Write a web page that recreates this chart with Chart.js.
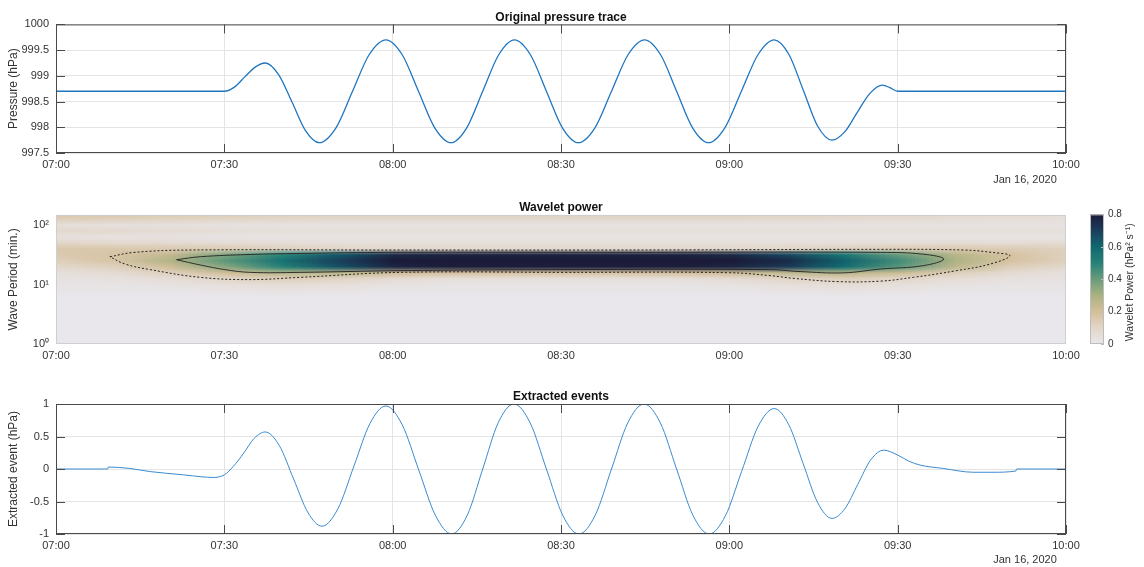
<!DOCTYPE html>
<html lang="en">
<head>
<meta charset="UTF-8" />
<title>Pressure trace, wavelet power and extracted events</title>
<script src="https://cdn.jsdelivr.net/npm/chart.js"></script>
<style>
  html, body { margin: 0; background: #fff; }
  #page { position: relative; width: 1144px; height: 567px; overflow: hidden; }
  .panel { position: absolute; }
</style>
</head>
<body>
<div id="page">
  <div class="panel" style="left:0;top:0;width:1144px;height:190px"><canvas id="traceChart"></canvas></div>
  <div class="panel" style="left:0;top:190px;width:1144px;height:180px"><canvas id="waveletChart"></canvas></div>
  <div class="panel" style="left:1070px;top:190px;width:74px;height:180px"><canvas id="colourbarChart"></canvas></div>
  <div class="panel" style="left:0;top:375px;width:1144px;height:192px"><canvas id="eventChart"></canvas></div>
</div>

<script>
// x axis: minutes after 07:00
const timeTicks = [0, 30, 60, 90, 120, 150, 180];
const timeLabels = ['07:00', '07:30', '08:00', '08:30', '09:00', '09:30', '10:00'];

// original pressure trace
const traceMinutes = [0, 15, 30, 31.8, 33.65, 35.5, 37.3, 39.7, 42.1, 44.5, 46.9, 49.9, 52.85, 55.8, 58.8,
  61.7, 64.6, 67.5, 70.4, 73.2, 76.05, 78.9, 81.7, 84.55, 87.4, 90.25, 93.1, 96.05, 99, 101.95, 104.9,
  107.75, 110.6, 113.45, 116.3, 119.2, 122.15, 125.1, 128, 130.6, 133.15, 135.7, 138.3, 140.55, 142.8,
  145.05, 147.3, 148.6, 150, 165, 180];
const traceHPa = [998.70, 998.70, 998.70, 998.78, 998.98, 999.17, 999.25, 999.02, 998.48, 997.93, 997.70, 997.99, 998.70, 999.41, 999.70,
  999.41, 998.70, 997.99, 997.70, 997.99, 998.70, 999.41, 999.70, 999.41, 998.70, 997.99, 997.70, 997.99, 998.70, 999.41, 999.70,
  999.41, 998.70, 997.99, 997.70, 997.99, 998.70, 999.41, 999.70, 999.42, 998.73, 998.03, 997.75, 997.91, 998.29,
  998.66, 998.82, 998.77, 998.70, 998.70, 998.70];
const pressureTicks = [997.5, 998, 998.5, 999, 999.5, 1000];
const pressureLabels = ['997.5', '998', '998.5', '999', '999.5', '1000'];

// extracted event
const eventMinutes = [0, 9.2, 9.3, 13, 16.8, 22.7, 26, 28, 30, 31.6, 33.5, 35.3, 37.3, 39.8, 42.35, 44.9, 47.4,
  50.25, 53.1, 55.95, 58.8, 61.7, 64.65, 67.6, 70.5, 73.3, 76.05, 78.8, 81.6, 84.5, 87.4, 90.3, 93.2,
  96.1, 99, 101.9, 104.8, 107.7, 110.6, 113.5, 116.4, 119.3, 122.2, 125.1, 128, 130.6, 133.15, 135.7,
  138.3, 140.6, 142.9, 145.2, 147.5, 150, 152, 154, 158, 163.5, 167, 171.1, 171.2, 180];
const eventHPa = [0, 0, 0.03, 0.01, -0.04, -0.09, -0.12, -0.13, -0.09, 0.04, 0.25, 0.47, 0.57, 0.36, -0.155, -0.67, -0.88,
  -0.61, 0.045, 0.70, 0.97, 0.68, -0.015, -0.71, -1.0, -0.71, 0, 0.71, 1.0, 0.71, 0, -0.71, -1.0,
  -0.71, 0, 0.71, 1.0, 0.71, 0, -0.71, -1.0, -0.72, -0.035, 0.65, 0.93, 0.68, 0.085, -0.51,
  -0.76, -0.61, -0.235, 0.14, 0.29, 0.215, 0.12, 0.06, 0.01, -0.05, -0.05, -0.03, 0, 0];
const eventTicks = [-1, -0.5, 0, 0.5, 1];
const eventLabels = ['-1', '-0.5', '0', '0.5', '1'];

// wavelet power grid: columns every 10 min, rows log10(period) from 2.2 down to 0.0
const powerMinutes = [0, 10, 20, 30, 40, 50, 60, 70, 80, 90, 100, 110, 120, 130, 140, 150, 160, 170, 180];
const powerLogPeriod = [2.2, 2.1, 2.0, 1.9, 1.8, 1.7, 1.6, 1.5, 1.4, 1.3, 1.2, 1.1, 1.0, 0.9, 0.8, 0.7, 0.6, 0.5, 0.4, 0.3, 0.2, 0.1, 0.0];
const powerGrid = [
  [0.17, 0.17, 0.16, 0.15, 0.14, 0.13, 0.13, 0.13, 0.13, 0.13, 0.13, 0.13, 0.13, 0.12, 0.11, 0.10, 0.09, 0.08, 0.07],
  [0.13, 0.12, 0.11, 0.10, 0.09, 0.08, 0.08, 0.08, 0.08, 0.08, 0.08, 0.08, 0.08, 0.08, 0.07, 0.07, 0.06, 0.05, 0.05],
  [0.05, 0.04, 0.04, 0.03, 0.03, 0.03, 0.03, 0.03, 0.03, 0.03, 0.03, 0.03, 0.03, 0.03, 0.03, 0.03, 0.03, 0.03, 0.03],
  [0.09, 0.08, 0.07, 0.06, 0.05, 0.05, 0.05, 0.05, 0.05, 0.05, 0.05, 0.05, 0.05, 0.05, 0.05, 0.05, 0.05, 0.05, 0.05],
  [0.04, 0.03, 0.03, 0.02, 0.02, 0.02, 0.02, 0.02, 0.02, 0.02, 0.02, 0.02, 0.02, 0.02, 0.02, 0.02, 0.02, 0.02, 0.02],
  [0.10, 0.09, 0.08, 0.07, 0.06, 0.05, 0.05, 0.05, 0.05, 0.05, 0.05, 0.05, 0.05, 0.05, 0.05, 0.06, 0.07, 0.07, 0.07],
  [0.16, 0.16, 0.15, 0.14, 0.12, 0.10, 0.09, 0.09, 0.09, 0.09, 0.09, 0.09, 0.09, 0.10, 0.12, 0.14, 0.15, 0.14, 0.12],
  [0.15, 0.17, 0.24, 0.37, 0.50, 0.64, 0.76, 0.78, 0.78, 0.78, 0.78, 0.78, 0.76, 0.68, 0.55, 0.40, 0.27, 0.18, 0.12],
  [0.13, 0.17, 0.28, 0.42, 0.56, 0.70, 0.82, 0.86, 0.87, 0.87, 0.87, 0.86, 0.83, 0.76, 0.62, 0.46, 0.29, 0.18, 0.12],
  [0.09, 0.12, 0.21, 0.35, 0.50, 0.65, 0.77, 0.79, 0.79, 0.79, 0.79, 0.79, 0.77, 0.71, 0.58, 0.42, 0.25, 0.13, 0.08],
  [0.05, 0.07, 0.12, 0.21, 0.27, 0.26, 0.21, 0.19, 0.18, 0.18, 0.18, 0.19, 0.21, 0.25, 0.27, 0.22, 0.13, 0.07, 0.05],
  [0.03, 0.04, 0.06, 0.10, 0.13, 0.11, 0.07, 0.05, 0.05, 0.05, 0.05, 0.05, 0.07, 0.10, 0.13, 0.10, 0.06, 0.04, 0.03],
  [0.02, 0.02, 0.03, 0.05, 0.06, 0.05, 0.03, 0.02, 0.02, 0.02, 0.02, 0.02, 0.03, 0.05, 0.06, 0.05, 0.03, 0.02, 0.02],
  [0.01, 0.01, 0.01, 0.02, 0.03, 0.02, 0.01, 0.01, 0.01, 0.01, 0.01, 0.01, 0.01, 0.02, 0.03, 0.02, 0.01, 0.01, 0.01],
  [0, 0, 0, 0, 0, 0, 0, 0, 0, 0, 0, 0, 0, 0, 0, 0, 0, 0, 0],
  [0, 0, 0, 0, 0, 0, 0, 0, 0, 0, 0, 0, 0, 0, 0, 0, 0, 0, 0],
  [0, 0, 0, 0, 0, 0, 0, 0, 0, 0, 0, 0, 0, 0, 0, 0, 0, 0, 0],
  [0, 0, 0, 0, 0, 0, 0, 0, 0, 0, 0, 0, 0, 0, 0, 0, 0, 0, 0],
  [0, 0, 0, 0, 0, 0, 0, 0, 0, 0, 0, 0, 0, 0, 0, 0, 0, 0, 0],
  [0, 0, 0, 0, 0, 0, 0, 0, 0, 0, 0, 0, 0, 0, 0, 0, 0, 0, 0],
  [0, 0, 0, 0, 0, 0, 0, 0, 0, 0, 0, 0, 0, 0, 0, 0, 0, 0, 0],
  [0, 0, 0, 0, 0, 0, 0, 0, 0, 0, 0, 0, 0, 0, 0, 0, 0, 0, 0],
  [0, 0, 0, 0, 0, 0, 0, 0, 0, 0, 0, 0, 0, 0, 0, 0, 0, 0, 0]
];
// contour outlines [minute, period in min]
const dashedContour = [[9.6, 29.3], [13.7, 34.5], [23.7, 38.0], [60, 38.0], [100, 38.0], [146.9, 39.0], [161.7, 38.0],
  [167, 34.5], [170, 30.4], [166.5, 22.1], [160.5, 17.1], [152.8, 13.2], [146.9, 11.4], [139.2, 11.2], [131.4, 12.7],
  [127.3, 14.1], [120, 15.8], [90, 16.0], [61.3, 16.0], [43.5, 13.2], [34.6, 12.1], [25.7, 13.2], [16.8, 17.8],
  [12.3, 22.1], [9.6, 29.3]];
const solidContour = [[21.5, 26.1], [25.7, 29.3], [34.6, 32.0], [43.5, 33.3], [60, 34.7], [100, 34.7], [146.9, 34.7],
  [154.5, 32.4], [158.2, 26.8], [154.5, 20.7], [146.9, 18.2], [140.3, 15.7], [132.6, 16.5], [127.3, 17.8], [90, 17.8],
  [61.3, 17.1], [43.5, 16.0], [34.6, 16.0], [30.1, 17.8], [25.7, 21.3], [21.5, 26.1]];
const periodTicks = [1, 10, 100];
const periodLabels = ['10⁰', '10¹', '10²'];
const powerTicks = [0, 0.2, 0.4, 0.6, 0.8];
const powerLabels = ['0', '0.2', '0.4', '0.6', '0.8'];

// colour map stops [power, rgb]
const colourStops = [
  [0, [233, 231, 236]], [0.1, [226, 214, 200]], [0.2, [212, 190, 153]], [0.3, [170, 178, 130]],
  [0.4, [104, 156, 124]], [0.5, [38, 130, 119]], [0.6, [14, 104, 112]], [0.7, [27, 62, 92]], [0.8, [27, 27, 56]]
];

Chart.defaults.font.family = "'Liberation Sans', Arial, Helvetica, sans-serif";
Chart.defaults.color = '#333';
Chart.defaults.animation = false;
Chart.defaults.plugins.legend.display = false;
Chart.defaults.plugins.tooltip.enabled = false;

function powerColour(v) {
  const t = Math.min(Math.max(v, 0), 0.8);
  for (let i = 1; i < colourStops.length; i++) {
    const [p0, c0] = colourStops[i - 1];
    const [p1, c1] = colourStops[i];
    if (t <= p1) {
      const f = (t - p0) / (p1 - p0);
      return c0.map((c, k) => Math.round(c + (c1[k] - c) * f));
    }
  }
  return colourStops[colourStops.length - 1][1];
}

// axes box with inward tick marks, like the original figure
const boxPlugin = {
  id: 'box',
  afterDatasetsDraw(chart, args, opts) {
    const { ctx, chartArea: a, scales } = chart;
    ctx.save();
    ctx.strokeStyle = opts.color;
    ctx.lineWidth = 1;
    ctx.strokeRect(a.left + 0.5, a.top + 0.5, a.width - 1, a.height - 1);
    const len = opts.tickLength || 0;
    if (len) {
      ctx.beginPath();
      if (scales.x && scales.x.options.display !== false) {
        scales.x.ticks.forEach(t => {
          const px = Math.round(scales.x.getPixelForValue(t.value)) + 0.5;
          ctx.moveTo(px, a.bottom); ctx.lineTo(px, a.bottom - len);
          ctx.moveTo(px, a.top); ctx.lineTo(px, a.top + len);
        });
      }
      if (scales.y) {
        scales.y.ticks.forEach(t => {
          const py = Math.round(scales.y.getPixelForValue(t.value)) + 0.5;
          if (opts.leftTicks !== false) { ctx.moveTo(a.left, py); ctx.lineTo(a.left + len, py); }
          ctx.moveTo(a.right, py); ctx.lineTo(a.right - len, py);
        });
      }
      ctx.stroke();
    }
    ctx.restore();
  }
};

// wavelet power image, placed through the chart's scales
const heatmapPlugin = {
  id: 'heatmap',
  beforeDatasetsDraw(chart) {
    const { ctx, chartArea: a, scales: { x, y } } = chart;
    const cols = powerMinutes.length, rows = powerLogPeriod.length;
    const img = document.createElement('canvas');
    img.width = cols; img.height = rows;
    const ic = img.getContext('2d');
    const pix = ic.createImageData(cols, rows);
    powerGrid.forEach((row, r) => row.forEach((v, c) => {
      const rgb = powerColour(v);
      const i = (r * cols + c) * 4;
      pix.data[i] = rgb[0]; pix.data[i + 1] = rgb[1]; pix.data[i + 2] = rgb[2]; pix.data[i + 3] = 255;
    }));
    ic.putImageData(pix, 0, 0);
    const x0 = x.getPixelForValue(powerMinutes[0]);
    const dx = x.getPixelForValue(powerMinutes[1]) - x0;
    const y0 = y.getPixelForValue(Math.pow(10, powerLogPeriod[0]));
    const dy = y.getPixelForValue(Math.pow(10, powerLogPeriod[1])) - y0;
    ctx.save();
    ctx.beginPath();
    ctx.rect(a.left, a.top, a.width, a.height);
    ctx.clip();
    ctx.imageSmoothingEnabled = true;
    ctx.drawImage(img, x0 - dx / 2, y0 - dy / 2, cols * dx, rows * dy);
    ctx.restore();
  }
};

const colourbarLabel = {
  id: 'colourbarLabel',
  afterDraw(chart) {
    const { ctx, chartArea: a } = chart;
    ctx.save();
    ctx.translate(60, (a.top + a.bottom) / 2 + 3);
    ctx.rotate(-Math.PI / 2);
    ctx.font = "10.5px 'Liberation Sans', Arial, sans-serif";
    ctx.fillStyle = '#333';
    ctx.textAlign = 'center';
    ctx.textBaseline = 'middle';
    ctx.fillText('Wavelet Power (hPa² s⁻¹)', 0, 0);
    ctx.restore();
  }
};

function timeAxis(height, dateTitle, showGrid) {
  return {
    type: 'linear', min: 0, max: 180,
    afterBuildTicks: s => { s.ticks = timeTicks.map(v => ({ value: v })); },
    afterFit: s => { s.height = height; },
    ticks: { maxRotation: 0, autoSkip: false, padding: 5, font: { size: 11 }, color: '#333',
      callback: (v, i) => timeLabels[i] },
    grid: { display: showGrid, color: '#e4e4e4', drawTicks: false },
    border: { display: false },
    title: dateTitle
      ? { display: true, text: 'Jan 16, 2020   ', align: 'end', font: { size: 11 }, color: '#333', padding: { top: 0, bottom: dateTitle } }
      : { display: false }
  };
}

function valueAxis(ticks, labels, title, extra) {
  return Object.assign({
    afterBuildTicks: s => { s.ticks = ticks.map(v => ({ value: v })); },
    afterFit: s => { s.width = 56; },
    ticks: { padding: 7, font: { size: 11 }, color: '#333', callback: (v, i) => labels[i] },
    grid: { color: '#e4e4e4', drawTicks: false },
    border: { display: false },
    title: { display: true, text: title, font: { size: 12 }, color: '#333', padding: { top: 6, bottom: 0 } }
  }, extra);
}

function panelTitle(text, top) {
  return { display: true, text, fullSize: false, color: '#111',
    font: { size: 12, weight: 'bold' }, padding: { top, bottom: 0 } };
}

// top: original pressure trace
new Chart(document.getElementById('traceChart'), {
  type: 'scatter',
  data: {
    datasets: [{
      data: traceMinutes.map((m, i) => ({ x: m, y: traceHPa[i] })),
      showLine: true, pointRadius: 0, borderColor: '#1f76c0', borderWidth: 1.3,
      cubicInterpolationMode: 'monotone'
    }]
  },
  options: {
    responsive: true, maintainAspectRatio: false,
    layout: { padding: { left: 0, right: 78, top: 0, bottom: 0 } },
    scales: {
      x: timeAxis(37, 3.4, true),
      y: valueAxis(pressureTicks, pressureLabels, 'Pressure (hPa)', { min: 997.5, max: 1000 })
    },
    plugins: { title: panelTitle('Original pressure trace', 10), box: { color: '#4a4a4a', tickLength: 9 } }
  },
  plugins: [boxPlugin]
});

// middle: wavelet power
new Chart(document.getElementById('waveletChart'), {
  type: 'scatter',
  data: {
    datasets: [
      { data: dashedContour.map(p => ({ x: p[0], y: p[1] })), showLine: true, pointRadius: 0,
        borderColor: '#222', borderWidth: 1, borderDash: [2, 2], tension: 0.4 },
      { data: solidContour.map(p => ({ x: p[0], y: p[1] })), showLine: true, pointRadius: 0,
        borderColor: '#222', borderWidth: 0.9, tension: 0.4 }
    ]
  },
  options: {
    responsive: true, maintainAspectRatio: false,
    layout: { padding: { left: 0, right: 78, top: 0, bottom: 0 } },
    scales: {
      x: timeAxis(26, 0, false),
      y: valueAxis(periodTicks, periodLabels, 'Wave Period (min.)',
        { type: 'logarithmic', min: 1, max: 148, grid: { display: false, drawTicks: false } })
    },
    plugins: { title: panelTitle('Wavelet power', 10.5), box: { color: '#cfcfcf', tickLength: 0 } }
  },
  plugins: [heatmapPlugin, boxPlugin]
});

// colour bar
new Chart(document.getElementById('colourbarChart'), {
  type: 'bar',
  data: {
    labels: ['power'],
    datasets: [{
      data: [[powerTicks[0], powerTicks[powerTicks.length - 1]]],
      barPercentage: 1, categoryPercentage: 1, borderWidth: 0,
      backgroundColor(c) {
        const chart = c.chart;
        if (!chart.chartArea) return '#ccc';
        const y = chart.scales.y;
        const g = chart.ctx.createLinearGradient(0, y.getPixelForValue(0), 0, y.getPixelForValue(0.8));
        colourStops.forEach(([p, rgb]) => g.addColorStop(p / 0.8, `rgb(${rgb.join(',')})`));
        return g;
      }
    }]
  },
  options: {
    responsive: true, maintainAspectRatio: false,
    layout: { padding: { left: 20, right: 0, top: 24.4, bottom: 26 } },
    scales: {
      x: { display: false },
      y: {
        position: 'right', min: 0, max: 0.8,
        afterBuildTicks: s => { s.ticks = powerTicks.map(v => ({ value: v })); },
        afterFit: s => { s.width = 40; },
        ticks: { padding: 4, font: { size: 10 }, color: '#333', callback: (v, i) => powerLabels[i] },
        grid: { display: false, drawTicks: false },
        border: { display: false }
      }
    },
    plugins: { box: { color: '#bdbdbd', tickLength: 3, leftTicks: false } }
  },
  plugins: [boxPlugin, colourbarLabel]
});

// bottom: extracted events
new Chart(document.getElementById('eventChart'), {
  type: 'scatter',
  data: {
    datasets: [{
      data: eventMinutes.map((m, i) => ({ x: m, y: eventHPa[i] })),
      showLine: true, pointRadius: 0, borderColor: '#3a8ad0', borderWidth: 1,
      cubicInterpolationMode: 'monotone'
    }]
  },
  options: {
    responsive: true, maintainAspectRatio: false,
    layout: { padding: { left: 0, right: 78, top: 0, bottom: 0 } },
    scales: {
      x: timeAxis(33, 0.4, true),
      y: valueAxis(eventTicks, eventLabels, 'Extracted event (hPa)', { min: -1, max: 1 })
    },
    plugins: { title: panelTitle('Extracted events', 14.6), box: { color: '#4a4a4a', tickLength: 9 } }
  },
  plugins: [boxPlugin]
});
</script>
</body>
</html>
